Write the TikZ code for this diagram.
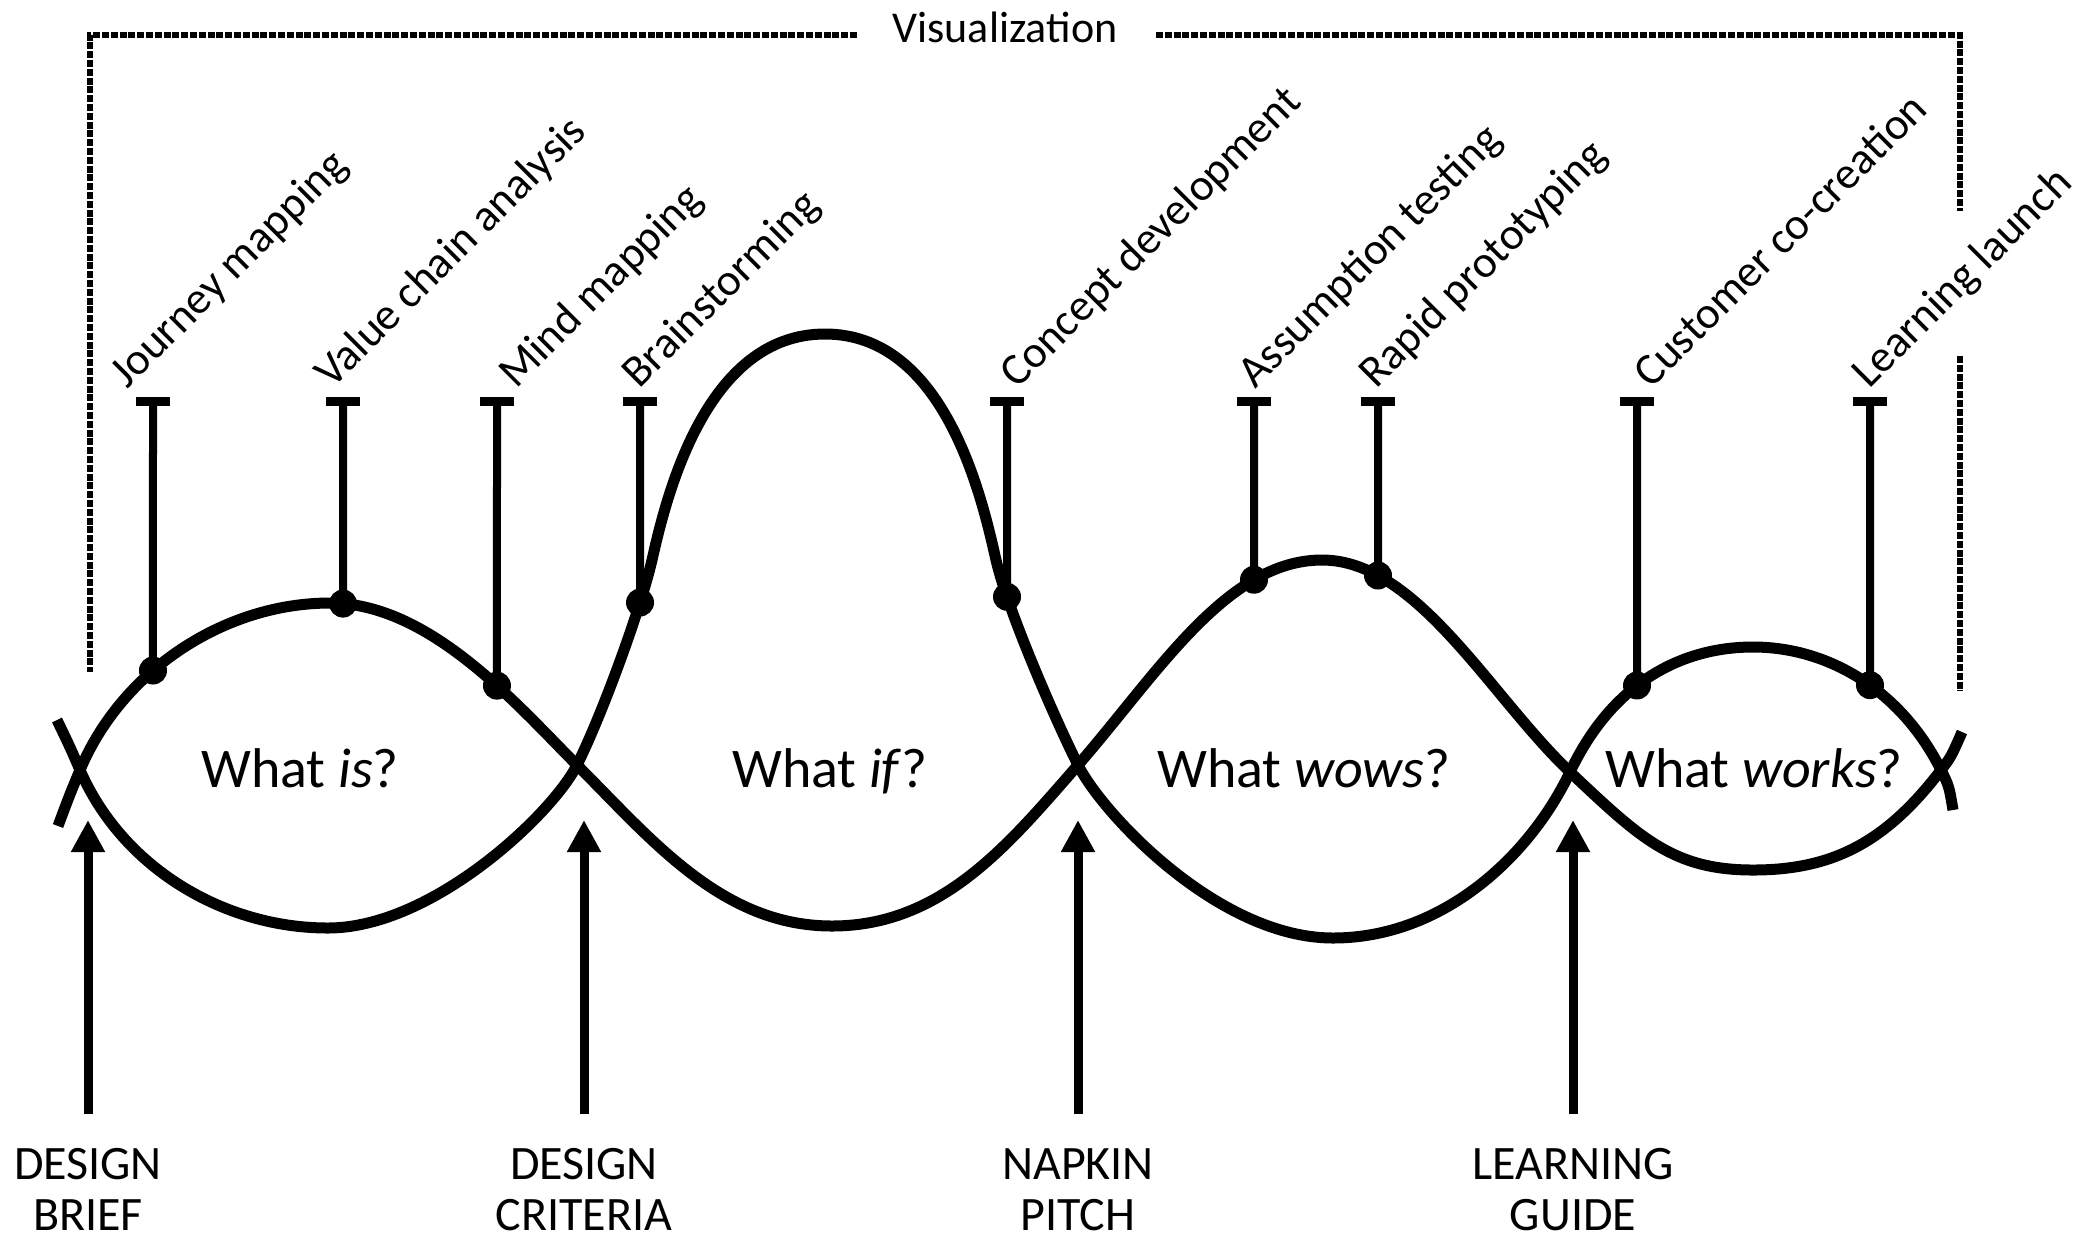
\documentclass[tikz,border=0pt]{standalone}
\usepackage{fontspec}
\setmainfont{Carlito}
\usetikzlibrary{arrows.meta,intersections}
\begin{document}
\begin{tikzpicture}[x=0.5pt,y=-0.5pt,
  curve/.style={line width=5.5pt},
  stem/.style={line width=4pt},
  tbar/.style={line width=4.5pt},
  upar/.style={line width=4.5pt,-{Triangle[width=16pt,length=16pt]}},
  vis/.style={line width=3pt,dash pattern=on 3.5pt off 0.9pt},
  tech/.style={rotate=45,anchor=base west,inner sep=0pt,font=\fontsize{22.5}{27}\selectfont},
  phase/.style={anchor=base,inner sep=0pt,font=\fontsize{28}{32}\selectfont},
  gate/.style={anchor=north,align=center,inner sep=0pt,font=\fontsize{24}{25.5}\selectfont},
  vislabel/.style={anchor=base,inner sep=0pt,font=\fontsize{22}{26}\selectfont}
]
\fill[white] (0,0) rectangle (2092,1239);
\useasboundingbox (0,0) rectangle (2092,1239);

% ---- Visualization bracket
\node[vislabel] (vis) at (1005,42) {Visualization};
\coordinate (vl1) at (857,35);
\coordinate (vl2) at (90,35);
\coordinate (vl3) at (90,672);
\coordinate (vr1) at (1156,35);
\coordinate (vr2) at (1960,35);
\coordinate (vr3) at (1960,211);
\coordinate (vr4) at (1960,356);
\coordinate (vr5) at (1960,691);
\draw[vis] (vl1) -- (vl2) -- (vl3);
\draw[vis] (vr1) -- (vr2) -- (vr3);
\draw[vis] (vr4) -- (vr5);

% ---- crossings and extremes
\coordinate (C0) at (80,770);
\coordinate (C1) at (577,765);
\coordinate (C2) at (1078,765);
\coordinate (C3) at (1570,772);
\coordinate (C4) at (1941,770);
\coordinate (TL1) at (58,826);
\coordinate (TL2) at (57,720);
\coordinate (TR1) at (1962,732);
\coordinate (TR2) at (1953,810);

% curve A
\draw[curve,name path=ca] (TL1) .. controls (70,794) .. (C0)
  .. controls (122,670) and (225,603) .. (330,603)
  .. controls (430,603) and (517,705) .. (C1)
  .. controls (652,840) and (722,926) .. (832,926)
  .. controls (942,926) and (1008,845) .. (C2)
  .. controls (1158,673) and (1227,560) .. (1322,560)
  .. controls (1417,560) and (1490,696) .. (C3)
  .. controls (1640,838) and (1673,870) .. (1753,870)
  .. controls (1833,870) and (1886,842) .. (C4)
  .. controls (1951,757) .. (TR1);

% curve B
\draw[curve,name path=cb] (TL2) .. controls (70,747) .. (C0)
  .. controls (122,867) and (223,928) .. (328,928)
  .. controls (433,928) and (553,813) .. (C1)
  .. controls (602,715) and (641,608) .. (652,560)
  .. controls (666,498) and (705,334) .. (825,334)
  .. controls (945,334) and (982,498) .. (996,560)
  .. controls (1007,608) and (1053,715) .. (C2)
  .. controls (1102,813) and (1218,938) .. (1333,938)
  .. controls (1443,938) and (1530,856) .. (C3)
  .. controls (1615,677) and (1688,647) .. (1753,647)
  .. controls (1828,647) and (1901,690) .. (C4)
  .. controls (1949,786) .. (TR2);

% ---- phase labels
\node[phase] (p1) at (300,787) {What \textit{is}?};
\node[phase] (p2) at (830,787) {What \textit{if}?};
\node[phase] (p3) at (1304,787) {What \textit{wows}?};
\node[phase] (p4) at (1754,787) {What \textit{works}?};

% ---- technique stems: vertical probes
\path[name path=v1] (153,401) -- (153,760);
\path[name path=v2] (343,401) -- (343,760);
\path[name path=v3] (497,401) -- (497,760);
\path[name path=v4] (640,401) -- (640,760);
\path[name path=v5] (1007,401) -- (1007,760);
\path[name path=v6] (1254,401) -- (1254,760);
\path[name path=v7] (1378,401) -- (1378,760);
\path[name path=v8] (1637,401) -- (1637,760);
\path[name path=v9] (1870,401) -- (1870,760);
\path[name intersections={of=v1 and ca,by=d1}];
\path[name intersections={of=v2 and ca,by=d2}];
\path[name intersections={of=v3 and ca,by=d3}];
\path[name intersections={of=v4 and cb,by=d4}];
\path[name intersections={of=v5 and cb,by=d5}];
\path[name intersections={of=v6 and ca,by=d6}];
\path[name intersections={of=v7 and ca,by=d7}];
\path[name intersections={of=v8 and cb,by=d8}];
\path[name intersections={of=v9 and cb,by=d9}];

\foreach \n/\x in {1/153,2/343,3/497,4/640,5/1007,6/1254,7/1378,8/1637,9/1870}{
  \coordinate (tb\n) at (\x,401);
  \draw[stem] (tb\n) -- (d\n);
  \draw[tbar] ([xshift=-8.5pt]tb\n) -- ([xshift=8.5pt]tb\n);
  \fill (d\n) circle (7pt);
}

\node[tech] (lab1) at (127,390) {Journey mapping};
\node[tech] (lab2) at (332,390) {Value chain analysis};
\node[tech] (lab3) at (516,390) {Mind mapping};
\node[tech] (lab4) at (639,390) {Brainstorming};
\node[tech] (lab5) at (1017,390) {Concept development};
\node[tech] (lab6) at (1255,390) {Assumption testing};
\node[tech] (lab7) at (1376,390) {Rapid prototyping};
\node[tech] (lab8) at (1651,390) {Customer co-creation};
\node[tech] (lab9) at (1869,390) {Learning launch};

% ---- gates
\foreach \n/\x/\a/\b in {1/88/DESIGN/BRIEF,2/584/DESIGN/CRITERIA,3/1078/NAPKIN/PITCH,4/1573/LEARNING/GUIDE}{
  \coordinate (gb\n) at (\x,1114);
  \coordinate (gt\n) at (\x,820);
  \draw[upar] (gb\n) -- (gt\n);
  \node[gate] (gl\n) at (\x,1148) {\a\\\b};
}
\end{tikzpicture}
\end{document}
